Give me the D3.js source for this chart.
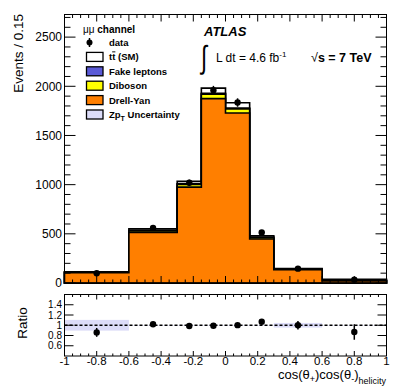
<!DOCTYPE html>
<html>
<head>
<meta charset="utf-8">
<script src="https://cdn.jsdelivr.net/npm/d3@7"></script>
<style>
  body { margin: 0; background: #fff; }
  svg { font-family: "Liberation Sans", Arial, sans-serif; }
</style>
</head>
<body>
<div id="chart"></div>
<script>
// Binning and stacked backgrounds (events per bin)
const binEdges    = [-1, -0.6, -0.3, -0.15, 0, 0.15, 0.3, 0.6, 1];
const drellYan    = [105, 515, 975, 1875, 1728, 448, 135, 20];
const diboson     = [4, 13, 28, 45, 42, 13, 4, 4];
const fakeLeptons = [2, 7, 6, 10, 10, 6, 2, 2];
const ttbar       = [4, 15, 24, 51, 52, 13, 5, 12];
const dataCounts  = [99, 560, 1019, 1960, 1835, 513, 146, 33];
// relative Zp_T uncertainty per bin
const zptUnc      = [0.105, 0.005, 0.005, 0.005, 0.005, 0.005, 0.045, 0.005];

const yTicksMain  = [0, 500, 1000, 1500, 2000, 2500];
const yTicksRatio = [0.6, 0.8, 1, 1.2, 1.4];
const xTicks      = [-1, -0.8, -0.6, -0.4, -0.2, 0, 0.2, 0.4, 0.6, 0.8, 1];

const W = 407, H = 388;
const left = 64.5, right = 386.5;
const mainTop = 14.5, mainBottom = 283;
const ratioTop = 294.5, ratioBottom = 356;

const svg = d3.select("#chart")
    .append("svg")
    .attr("width", W)
    .attr("height", H);

const x = d3.scaleLinear().domain([-1, 1]).range([left, right]);
const y = d3.scaleLinear().domain([0, 2730]).range([mainBottom, mainTop]);
const yr = d3.scaleLinear().domain([0.4, 1.6]).range([ratioBottom, ratioTop]);

// cumulative stacks
const n = binEdges.length - 1;
const cumDY = drellYan.slice();
const cumDib = cumDY.map((v, i) => v + diboson[i]);
const cumFake = cumDib.map((v, i) => v + fakeLeptons[i]);
const cumTot = cumFake.map((v, i) => v + ttbar[i]);

const step = d3.line()
    .x(d => x(d[0]))
    .y(d => y(d[1]))
    .curve(d3.curveStepAfter);

function stepPoints(vals) {
    const pts = [[binEdges[0], 0]];
    binEdges.forEach((e, i) => pts.push([e, vals[Math.min(i, n - 1)]]));
    pts.push([binEdges[n], 0]);
    return pts;
}

const layers = [
    { vals: cumTot, color: "#ffffff" },
    { vals: cumFake, color: "#5a5ad6" },
    { vals: cumDib, color: "#ffff00" },
    { vals: cumDY, color: "#ff7f00" }
];

svg.append("g").selectAll("path")
    .data(layers)
    .enter().append("path")
    .attr("d", d => step(stepPoints(d.vals)) + "Z")
    .attr("fill", d => d.color)
    .attr("stroke", "#000")
    .attr("stroke-width", 1.6);

// data points
const centers = d3.range(n).map(i => (binEdges[i] + binEdges[i + 1]) / 2);
const points = svg.append("g");
points.selectAll("line")
    .data(dataCounts)
    .enter().append("line")
    .attr("x1", (d, i) => x(centers[i]))
    .attr("x2", (d, i) => x(centers[i]))
    .attr("y1", d => y(d + Math.sqrt(d)))
    .attr("y2", d => y(Math.max(0, d - Math.sqrt(d))))
    .attr("stroke", "#000")
    .attr("stroke-width", 1.5);
points.selectAll("circle")
    .data(dataCounts)
    .enter().append("circle")
    .attr("cx", (d, i) => x(centers[i]))
    .attr("cy", d => y(d))
    .attr("r", 3.2)
    .attr("fill", "#000");

// tick helper: draws tick marks pointing inside the frame
function tickLines(values, len, side, scale, y0, y1) {
    const g = svg.append("g").attr("stroke", "#000").attr("stroke-width", 1);
    g.selectAll("line")
        .data(values)
        .enter().append("line")
        .attr("x1", d => side === "left" ? left : side === "right" ? right : scale(d))
        .attr("x2", d => side === "left" ? left + len(d) : side === "right" ? right - len(d) : scale(d))
        .attr("y1", d => side === "top" ? y0 : side === "bottom" ? y1 : scale(d))
        .attr("y2", d => side === "top" ? y0 + len(d) : side === "bottom" ? y1 - len(d) : scale(d));
}

const isMult = (v, m) => Math.abs(v / m - Math.round(v / m)) < 1e-6;

// main frame ticks
const yMinor = d3.range(0, 2701, 100);
tickLines(yMinor, d => isMult(d, 500) ? 11 : 6, "left", y);
tickLines(yMinor, d => isMult(d, 500) ? 11 : 6, "right", y);
const xMinor = d3.range(-1, 1.0001, 0.05).map(v => +v.toFixed(2));
tickLines(xMinor, d => isMult(d, 0.2) ? 7 : 3.5, "top", x, mainTop, mainBottom);
tickLines(xMinor, d => isMult(d, 0.2) ? 7 : 3.5, "bottom", x, mainTop, mainBottom);

// ratio panel
const ratioG = svg.append("g");
ratioG.selectAll("rect")
    .data(zptUnc)
    .enter().append("rect")
    .attr("x", (d, i) => x(binEdges[i]))
    .attr("width", (d, i) => x(binEdges[i + 1]) - x(binEdges[i]))
    .attr("y", d => yr(1 + d))
    .attr("height", d => yr(1 - d) - yr(1 + d))
    .attr("fill", "#dcdcf8");

ratioG.append("line")
    .attr("x1", x(-1)).attr("x2", x(1))
    .attr("y1", yr(1)).attr("y2", yr(1))
    .attr("stroke", "#000")
    .attr("stroke-width", 1.5)
    .attr("stroke-dasharray", "3,2");

const ratios = dataCounts.map((d, i) => ({
    c: centers[i],
    r: d / cumTot[i],
    e: Math.sqrt(d) / cumTot[i]
}));
ratioG.selectAll("line.err")
    .data(ratios)
    .enter().append("line")
    .attr("class", "err")
    .attr("x1", d => x(d.c)).attr("x2", d => x(d.c))
    .attr("y1", d => yr(d.r + d.e)).attr("y2", d => yr(d.r - d.e))
    .attr("stroke", "#000")
    .attr("stroke-width", 1.5);
ratioG.selectAll("circle")
    .data(ratios)
    .enter().append("circle")
    .attr("cx", d => x(d.c))
    .attr("cy", d => yr(d.r))
    .attr("r", 3.2)
    .attr("fill", "#000");

tickLines(yTicksRatio, () => 9, "left", yr);
tickLines(yTicksRatio, () => 9, "right", yr);
tickLines(xMinor, d => isMult(d, 0.2) ? 5 : 2.5, "top", x, ratioTop, ratioBottom);
tickLines(xMinor, d => isMult(d, 0.2) ? 5 : 2.5, "bottom", x, ratioTop, ratioBottom);

// frames
[[mainTop, mainBottom], [ratioTop, ratioBottom]].forEach(f => {
    svg.append("rect")
        .attr("x", left).attr("y", f[0])
        .attr("width", right - left).attr("height", f[1] - f[0])
        .attr("fill", "none")
        .attr("stroke", "#000")
        .attr("stroke-width", 1);
});

// tick labels
svg.append("g").selectAll("text")
    .data(yTicksMain)
    .enter().append("text")
    .attr("x", 62).attr("y", d => y(d))
    .attr("dy", "0.36em")
    .attr("text-anchor", "end")
    .style("font-size", "12px")
    .text(d => d);

svg.append("g").selectAll("text")
    .data(yTicksRatio)
    .enter().append("text")
    .attr("x", 62).attr("y", d => yr(d))
    .attr("dy", "0.36em")
    .attr("text-anchor", "end")
    .style("font-size", "10px")
    .text(d => d);

svg.append("g").selectAll("text")
    .data(xTicks)
    .enter().append("text")
    .attr("x", d => x(d)).attr("y", 365)
    .attr("text-anchor", "middle")
    .style("font-size", "11.5px")
    .text(d => d === 0 ? "0" : String(+d.toFixed(1)));

// axis titles
svg.append("text")
    .attr("transform", "translate(23,14) rotate(-90)")
    .attr("text-anchor", "end")
    .style("font-size", "13.5px")
    .text("Events / 0.15");

svg.append("text")
    .attr("transform", "translate(26.5,323) rotate(-90)")
    .attr("text-anchor", "middle")
    .style("font-size", "13.5px")
    .text("Ratio");

const xt = svg.append("text")
    .attr("x", 386).attr("y", 378.5)
    .attr("text-anchor", "end")
    .style("font-size", "13px");
xt.append("tspan").text("cos(θ");
xt.append("tspan").attr("dy", 3).style("font-size", "9px").text("+");
xt.append("tspan").attr("dy", -3).text(")cos(θ");
xt.append("tspan").attr("dy", 3).style("font-size", "9px").text("-");
xt.append("tspan").attr("dy", -3).text(")");
xt.append("tspan").attr("dy", 5.5).style("font-size", "9px").text("helicity");

// ATLAS labels
svg.append("text")
    .attr("x", 204).attr("y", 36)
    .style("font-size", "13px")
    .style("font-weight", "bold")
    .style("font-style", "italic")
    .text("ATLAS");

svg.append("text")
    .attr("transform", "translate(201,68) scale(1,1.45)")
    .style("font-size", "22px")
    .text("∫");

const lumi = svg.append("text")
    .attr("x", 216).attr("y", 62)
    .style("font-size", "12px");
lumi.append("tspan").text("L dt = 4.6 fb");
lumi.append("tspan").attr("dy", -5).style("font-size", "8px").text("-1");

const sq = svg.append("text")
    .attr("x", 311).attr("y", 62)
    .style("font-size", "12.5px");
sq.append("tspan").text("√");
sq.append("tspan").style("font-weight", "bold").text("s = 7 TeV");

// legend
const legend = svg.append("g");
legend.append("text")
    .attr("x", 83).attr("y", 33)
    .style("font-size", "10px")
    .html("μμ <tspan font-weight='bold'>channel</tspan>");

const legendRows = [
    { label: "data", type: "data" },
    { label: "tt (SM)", type: "box", color: "#ffffff" },
    { label: "Fake leptons", type: "box", color: "#5a5ad6" },
    { label: "Diboson", type: "box", color: "#ffff00" },
    { label: "Drell-Yan", type: "box", color: "#ff7f00" },
    { label: "Zp", type: "box", color: "#dcdcf8" }
];

legendRows.forEach((r, i) => {
    const by = 46 + i * 14.4;
    if (r.type === "data") {
        legend.append("line")
            .attr("x1", 89.5).attr("x2", 89.5)
            .attr("y1", by - 8).attr("y2", by + 1)
            .attr("stroke", "#000").attr("stroke-width", 1.5);
        legend.append("circle")
            .attr("cx", 89.5).attr("cy", by - 3.5).attr("r", 3)
            .attr("fill", "#000");
    } else {
        legend.append("rect")
            .attr("x", 86.5).attr("y", by - 8)
            .attr("width", 16.5).attr("height", 9)
            .attr("fill", r.color)
            .attr("stroke", "#000")
            .attr("stroke-width", 1.3);
    }
    const t = legend.append("text")
        .attr("x", 109).attr("y", by)
        .style("font-size", "9.5px")
        .style("font-weight", "bold");
    if (i === 1) {
        t.append("tspan").text("t");
        t.append("tspan").style("text-decoration", "overline").text("t");
        t.append("tspan").text(" (SM)");
    } else if (i === 5) {
        t.append("tspan").text("Zp");
        t.append("tspan").attr("dy", 3).style("font-size", "7px").text("T");
        t.append("tspan").attr("dy", -3).text(" Uncertainty");
    } else {
        t.text(r.label);
    }
});
</script>
</body>
</html>
